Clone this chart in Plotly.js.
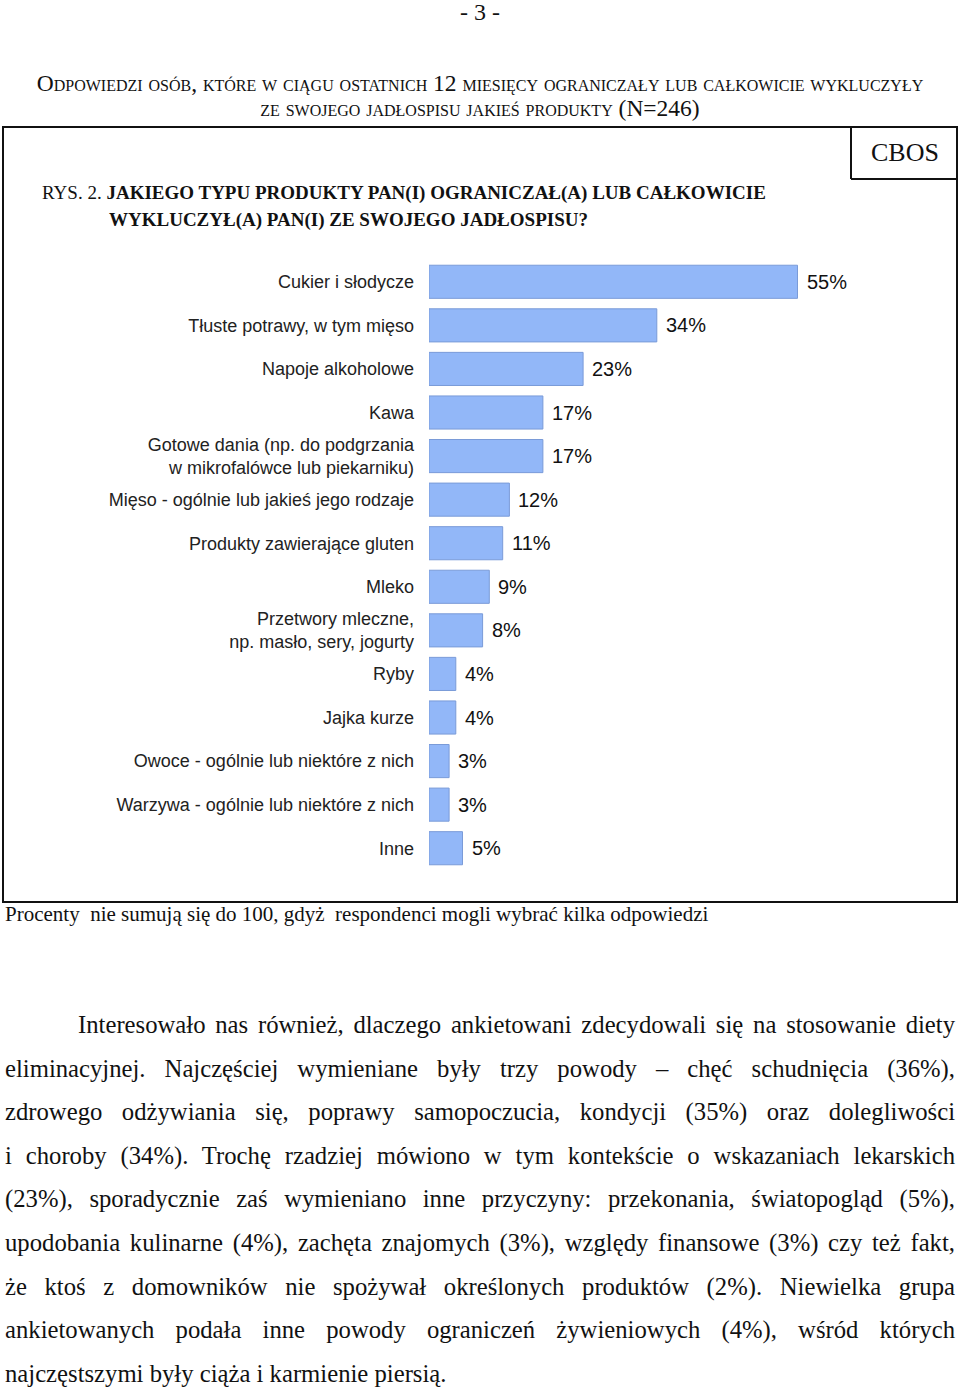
<!DOCTYPE html>
<html><head><meta charset="utf-8">
<script src="https://cdn.plot.ly/plotly-3.0.1.min.js"></script>
<style>
body{margin:0;padding:0;background:#fff;width:960px;height:1388px;overflow:hidden;position:relative;font-family:"Liberation Serif","Times New Roman",serif;color:#111;}
#chart{position:absolute;left:0;top:0;width:960px;height:940px;}
.abs{position:absolute;white-space:nowrap;}
#pagenum{left:0;width:960px;top:0px;text-align:center;font-size:24px;line-height:24px;}
.hdr{left:0;width:960px;text-align:center;font-size:23.5px;font-variant:small-caps;}
#foot{left:5px;top:902px;font-size:21px;}
#para{position:absolute;left:5px;top:1003px;width:950px;font-size:24.7px;line-height:43.6px;}
#para div{text-align:justify;text-align-last:justify;white-space:nowrap;}
#para div.last{text-align-last:left;}
</style></head>
<body>
<div class="abs" id="pagenum">- 3 -</div>
<div class="abs hdr" style="top:70px;">Odpowiedzi osób, które w ciągu ostatnich 12 miesięcy ograniczały lub całkowicie wykluczyły</div>
<div class="abs hdr" style="top:95px;">ze swojego jadłospisu jakieś produkty (N=246)</div>
<div id="chart"></div>
<div class="abs" id="foot">Procenty&nbsp; nie sumują się do 100, gdyż&nbsp; respondenci mogli wybrać kilka odpowiedzi</div>
<div id="para">
<div style="padding-left:73px">Interesowało nas również, dlaczego ankietowani zdecydowali się na stosowanie diety</div>
<div>eliminacyjnej. Najczęściej wymieniane były trzy powody – chęć schudnięcia (36%),</div>
<div>zdrowego odżywiania się, poprawy samopoczucia, kondycji (35%) oraz dolegliwości</div>
<div>i choroby (34%). Trochę rzadziej mówiono w tym kontekście o wskazaniach lekarskich</div>
<div>(23%), sporadycznie zaś wymieniano inne przyczyny: przekonania, światopogląd (5%),</div>
<div>upodobania kulinarne (4%), zachęta znajomych (3%), względy finansowe (3%) czy też fakt,</div>
<div>że ktoś z domowników nie spożywał określonych produktów (2%). Niewielka grupa</div>
<div>ankietowanych podała inne powody ograniczeń żywieniowych (4%), wśród których</div>
<div class="last">najczęstszymi były ciąża i karmienie piersią.</div>
</div>
<script>
const categories = [
  "Cukier i słodycze",
  "Tłuste potrawy, w tym mięso",
  "Napoje alkoholowe",
  "Kawa",
  "Gotowe dania (np. do podgrzania<br>w mikrofalówce lub piekarniku)",
  "Mięso - ogólnie lub jakieś jego rodzaje",
  "Produkty zawierające gluten",
  "Mleko",
  "Przetwory mleczne,<br>np. masło, sery, jogurty",
  "Ryby",
  "Jajka kurze",
  "Owoce - ogólnie lub niektóre z nich",
  "Warzywa - ogólnie lub niektóre z nich",
  "Inne"
];
const values = [55, 34, 23, 17, 17, 12, 11, 9, 8, 4, 4, 3, 3, 5];
const valueLabels = ["55%","34%","23%","17%","17%","12%","11%","9%","8%","4%","4%","3%","3%","5%"];
const titleLine1 = "RYS. 2. <b>JAKIEGO TYPU PRODUKTY PAN(I) OGRANICZAŁ(A) LUB CAŁKOWICIE</b>";
const titleLine2 = "<b>WYKLUCZYŁ(A) PAN(I) ZE SWOJEGO JADŁOSPISU?</b>";
const badge = "CBOS";

const W = 960, Ht = 940;
const L = 429, R = 62, T = 260, B = 70;
const pw = W - L - R, ph = Ht - T - B;
const xp = px => (px - L) / pw;
const yp = py => 1 - (py - T) / ph;

const serif = "Liberation Serif, Times New Roman, serif";
const sans = "Liberation Sans, Arial, sans-serif";

const annotations = values.map((v, i) => ({
  x: v, y: categories[i], xref: 'x', yref: 'y', text: valueLabels[i],
  showarrow: false, xanchor: 'left', yanchor: 'middle', xshift: 7,
  font: {family: sans, size: 20, color: '#111'}
}));
annotations.push(
  {xref:'paper', yref:'paper', x: xp(40), y: yp(193), xanchor:'left', yanchor:'middle', showarrow:false,
   text: titleLine1, font:{family: serif, size: 19, color:'#111'}},
  {xref:'paper', yref:'paper', x: xp(107), y: yp(220), xanchor:'left', yanchor:'middle', showarrow:false,
   text: titleLine2, font:{family: serif, size: 19, color:'#111'}},
  {xref:'paper', yref:'paper', x: xp(905), y: yp(152), xanchor:'center', yanchor:'middle', showarrow:false,
   text: badge, font:{family: serif, size: 26, color:'#111'}}
);

const shapes = [
  {type:'rect', xref:'paper', yref:'paper', x0: xp(3), x1: xp(957), y0: yp(127), y1: yp(902), line:{color:'#111', width:2}},
  {type:'line', xref:'paper', yref:'paper', x0: xp(851), x1: xp(851), y0: yp(127), y1: yp(179), line:{color:'#111', width:2}},
  {type:'line', xref:'paper', yref:'paper', x0: xp(851), x1: xp(957), y0: yp(179), y1: yp(179), line:{color:'#111', width:2}}
];

Plotly.newPlot('chart', [{
  type: 'bar', orientation: 'h', x: values, y: categories, width: 0.76,
  marker: {color: '#92b7f8', line: {color: '#7a9bd8', width: 1}},
  hoverinfo: 'none', cliponaxis: false
}], {
  width: W, height: Ht,
  margin: {l: L, r: R, t: T, b: B, pad: 0},
  paper_bgcolor: 'rgba(0,0,0,0)', plot_bgcolor: 'rgba(0,0,0,0)',
  showlegend: false,
  xaxis: {range: [0, 70], visible: false, fixedrange: true},
  yaxis: {type: 'category', autorange: 'reversed', showgrid: false, zeroline: false, showline: false,
          ticks: '', ticklabelstandoff: 14, automargin: false,
          tickfont: {family: sans, size: 18, color: '#222'}},
  annotations: annotations,
  shapes: shapes
}, {staticPlot: true, displayModeBar: false});
</script>
</body></html>
